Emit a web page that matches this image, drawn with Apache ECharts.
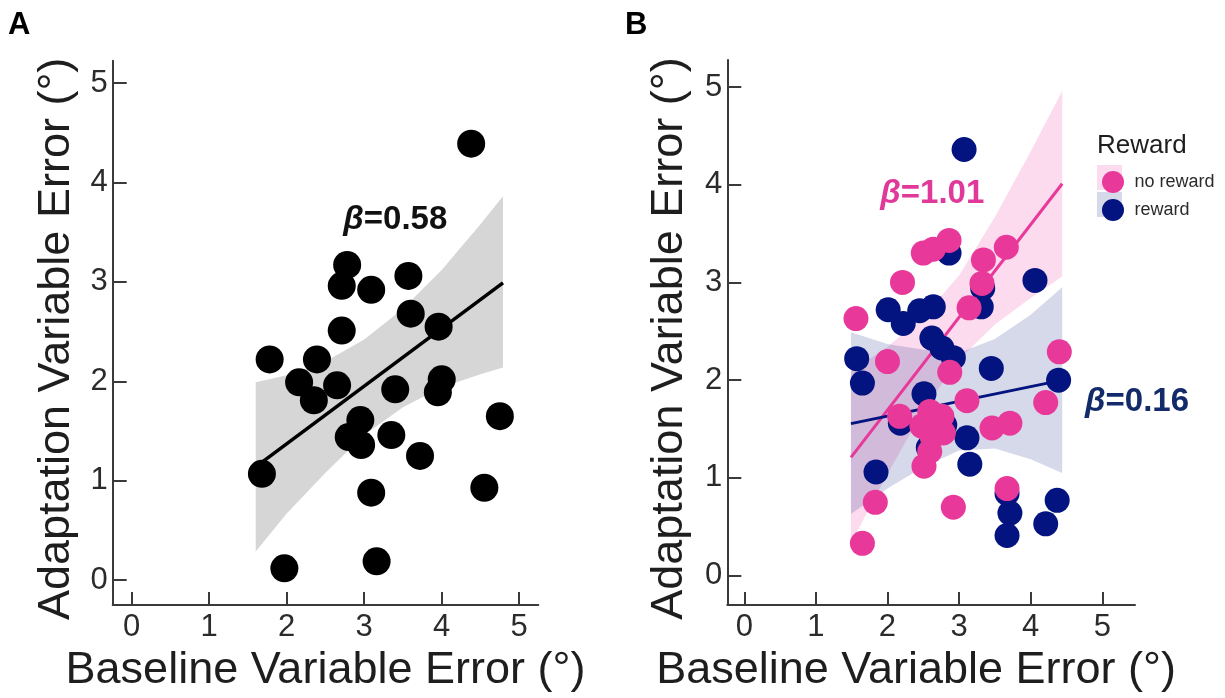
<!DOCTYPE html>
<html>
<head>
<meta charset="utf-8">
<script src="https://cdn.jsdelivr.net/npm/echarts@6/dist/echarts.min.js"></script>
<style>
  html, body { margin: 0; padding: 0; background: #fff; }
  #chart { width: 1225px; height: 698px; }
</style>
</head>
<body>
<div id="chart"></div>
<script>
// ---------- Data ----------
const tickValues = [0, 1, 2, 3, 4, 5];

// Panel A: all participants
const aBaseline = [4.38, 2.78, 2.71, 3.09, 3.57, 3.60, 2.71, 3.96, 1.78, 2.39, 2.16, 2.65, 2.35, 3.40, 4.00, 3.95, 2.95, 2.80, 2.96, 3.35, 3.72, 4.75, 1.68, 3.09, 4.55, 1.97, 3.16];
const aAdapt    = [4.39, 3.17, 2.96, 2.92, 3.06, 2.68, 2.51, 2.55, 2.22, 2.22, 1.99, 1.96, 1.81, 1.92, 2.02, 1.89, 1.61, 1.44, 1.36, 1.46, 1.25, 1.65, 1.07, 0.88, 0.93, 0.12, 0.19];
const aFitX = [1.60, 4.79];
const aFitY = [1.14, 2.99];
const aBandX  = [1.60, 2.00, 2.50, 3.00, 3.50, 4.00, 4.50, 4.79];
const aBandHi = [1.99, 2.06, 2.20, 2.42, 2.73, 3.12, 3.58, 3.86];
const aBandLo = [0.29, 0.67, 1.08, 1.46, 1.74, 1.94, 2.07, 2.14];

// Panel B: by reward group
const noRewardX = [1.56, 2.21, 2.00, 1.65, 1.83, 2.92, 2.51, 2.50, 2.64, 2.86, 3.34, 3.32, 3.66, 3.14, 2.87, 3.11, 4.40, 4.21, 3.46, 3.71, 3.67, 2.17, 2.59, 2.76, 2.48, 2.78, 2.62, 2.59];
const noRewardY = [2.63, 3.00, 2.19, 0.33, 0.75, 0.70, 1.12, 3.30, 3.34, 3.43, 3.23, 2.99, 3.36, 2.74, 2.08, 1.79, 2.29, 1.77, 1.51, 1.56, 0.89, 1.63, 1.68, 1.63, 1.53, 1.46, 1.43, 1.27];
const rewardX = [3.07, 2.86, 4.06, 2.01, 2.22, 2.45, 2.64, 3.33, 3.31, 2.62, 2.76, 2.92, 1.57, 1.65, 3.45, 4.39, 2.51, 2.18, 2.80, 3.11, 2.57, 3.15, 1.84, 3.67, 3.71, 3.67, 4.37, 4.21];
const rewardY = [4.36, 3.30, 3.02, 2.72, 2.58, 2.71, 2.75, 2.94, 2.75, 2.43, 2.33, 2.23, 2.22, 1.97, 2.12, 2.00, 1.86, 1.56, 1.54, 1.41, 1.31, 1.14, 1.06, 0.84, 0.64, 0.41, 0.77, 0.53];

const noRewardFitX = [1.49, 4.44];
const noRewardFitY = [1.21, 4.01];
const rewardFitX = [1.49, 4.44];
const rewardFitY = [1.555, 2.00];

const bBandX = [1.49, 2.00, 2.50, 3.00, 3.50, 4.00, 4.44];
const noRewardBandHi = [2.09, 2.34, 2.65, 3.07, 3.67, 4.34, 4.96];
const noRewardBandLo = [0.33, 1.04, 1.69, 2.21, 2.57, 2.84, 3.06];
const rewardBandHi = [2.49, 2.37, 2.31, 2.28, 2.42, 2.67, 2.95];
const rewardBandLo = [0.63, 0.89, 1.11, 1.28, 1.30, 1.19, 1.05];

const groupNames = ['no reward', 'reward'];
const betaA = 'β=0.58', betaNoReward = 'β=1.01', betaReward = 'β=0.16';

// ---------- Styles ----------
const PINK = '#e8399a';
const NAVY = '#03137f';
const PINK_BAND = 'rgba(232,57,154,0.18)';
const NAVY_BAND = 'rgba(3,19,127,0.16)';
const GREY_BAND = '#d6d6d6';
const FONT = '"Liberation Sans", Arial, Helvetica, sans-serif';
const AXIS_COLOR = '#3a3a3a';

const zip = (xs, ys) => xs.map((x, i) => [x, ys[i]]);
const bandData = (xs, lo, hi) => xs.map((x, i) => [x, lo[i], hi[i]]);

function bandSeries(idx, data, color, z) {
  return {
    type: 'custom',
    xAxisIndex: idx, yAxisIndex: idx,
    data: data,
    z: z,
    silent: true,
    encode: { x: 0, y: [1, 2] },
    renderItem: function (params, api) {
      if (params.dataIndex !== 0) return;
      const top = [], bottom = [];
      for (let i = 0; i < data.length; i++) {
        top.push(api.coord([data[i][0], data[i][2]]));
        bottom.push(api.coord([data[i][0], data[i][1]]));
      }
      const pts = top.concat(bottom.reverse());
      return {
        type: 'polygon',
        shape: { points: pts, smooth: 0 },
        style: { fill: color, stroke: null }
      };
    }
  };
}

function makeXAxis(gi, min, max, gap, pad) {
  return {
    gridIndex: gi, type: 'value', min: min, max: max,
    splitLine: { show: false },
    axisLine: { show: true, onZero: false, lineStyle: { color: AXIS_COLOR, width: 2 } },
    axisTick: { show: true, inside: true, length: 13, customValues: tickValues, lineStyle: { color: AXIS_COLOR, width: 2 } },
    axisLabel: { customValues: tickValues, fontSize: 31, color: '#2b2b2b', fontFamily: FONT, margin: 7 },
    name: 'Baseline Variable Error (°)',
    nameLocation: 'middle', nameGap: gap,
    nameTextStyle: { fontSize: 45, color: '#1e1e1e', fontFamily: FONT, padding: pad }
  };
}
function makeYAxis(gi, min, max, gap) {
  return {
    gridIndex: gi, type: 'value', min: min, max: max,
    splitLine: { show: false },
    axisLine: { show: true, onZero: false, lineStyle: { color: AXIS_COLOR, width: 2 } },
    axisTick: { show: true, inside: true, length: 14, customValues: tickValues, lineStyle: { color: AXIS_COLOR, width: 2 } },
    axisLabel: { customValues: tickValues, fontSize: 31, color: '#2b2b2b', fontFamily: FONT, margin: 5 },
    name: 'Adaptation Variable Error (°)',
    nameLocation: 'middle', nameGap: gap, nameRotate: 90,
    nameTextStyle: { fontSize: 45, color: '#1e1e1e', fontFamily: FONT, padding: [0, 12, 0, 0] }
  };
}

const chart = echarts.init(document.getElementById('chart'), null, { renderer: 'canvas' });

const option = {
  animation: false,
  backgroundColor: '#ffffff',
  grid: [
    { left: 112.7, top: 60.7, width: 425.6, height: 550 },
    { left: 727.3, top: 60, width: 407.7, height: 555 }
  ],
  xAxis: [
    makeXAxis(0, -0.245, 5.246, 43, [0, 0, 0, 0]),
    makeXAxis(1, -0.237, 5.457, 39, [0, 30, 0, 0])
  ],
  yAxis: [
    makeYAxis(0, -0.249, 5.224, 34),
    makeYAxis(1, -0.302, 5.276, 35)
  ],
  legend: {
    data: groupNames,
    orient: 'vertical',
    left: 1097, top: 166,
    itemWidth: 25, itemHeight: 22, itemGap: 6,
    icon: 'circle',
    textStyle: { fontSize: 18, color: '#2b2b2b', fontFamily: FONT, padding: [0, 0, 0, 4] }
  },
  series: [
    // Panel A
    bandSeries(0, bandData(aBandX, aBandLo, aBandHi), GREY_BAND, 1),
    {
      type: 'line', xAxisIndex: 0, yAxisIndex: 0, data: zip(aFitX, aFitY),
      showSymbol: false, lineStyle: { color: '#000', width: 3.5 }, z: 2, silent: true
    },
    {
      type: 'scatter', xAxisIndex: 0, yAxisIndex: 0, data: zip(aBaseline, aAdapt),
      symbol: 'circle', symbolSize: 28, itemStyle: { color: '#000', opacity: 1 }, z: 3
    },
    // Panel B
    bandSeries(1, bandData(bBandX, noRewardBandLo, noRewardBandHi), PINK_BAND, 1),
    bandSeries(1, bandData(bBandX, rewardBandLo, rewardBandHi), NAVY_BAND, 1),
    {
      type: 'line', xAxisIndex: 1, yAxisIndex: 1, data: zip(noRewardFitX, noRewardFitY),
      showSymbol: false, lineStyle: { color: PINK, width: 3 }, z: 2, silent: true
    },
    {
      type: 'line', xAxisIndex: 1, yAxisIndex: 1, data: zip(rewardFitX, rewardFitY),
      showSymbol: false, lineStyle: { color: NAVY, width: 3 }, z: 2, silent: true
    },
    {
      name: 'reward', type: 'scatter', xAxisIndex: 1, yAxisIndex: 1, data: zip(rewardX, rewardY),
      symbol: 'circle', symbolSize: 25, itemStyle: { color: NAVY, opacity: 1 }, z: 3
    },
    {
      name: 'no reward', type: 'scatter', xAxisIndex: 1, yAxisIndex: 1, data: zip(noRewardX, noRewardY),
      symbol: 'circle', symbolSize: 25, itemStyle: { color: PINK, opacity: 1 }, z: 4
    }
  ]
};
chart.setOption(option);

// ---------- Annotations ----------
function betaText(gridIdx, coord, txt, color, size) {
  const p = chart.convertToPixel({ gridIndex: gridIdx }, coord);
  const rest = txt.slice(1);
  return {
    type: 'text', x: p[0], y: p[1], z: 100,
    style: {
      text: '{b|β}' + rest,
      fill: color,
      font: 'bold ' + size + 'px ' + FONT,
      verticalAlign: 'middle', align: 'left',
      rich: { b: { fontStyle: 'italic', fontWeight: 'bold', fontSize: size, fontFamily: FONT, fill: color } }
    }
  };
}

chart.setOption({
  graphic: [
    { type: 'text', left: 8, top: 10, style: { text: 'A', font: 'bold 31px ' + FONT, fill: '#000' } },
    { type: 'text', left: 625, top: 10, style: { text: 'B', font: 'bold 31px ' + FONT, fill: '#000' } },
    { type: 'text', left: 1097, top: 133, style: { text: 'Reward', font: '26px ' + FONT, fill: '#1e1e1e' } },
    { type: 'rect', shape: { x: 1097, y: 165, width: 25, height: 25 }, style: { fill: PINK_BAND }, z: -1 },
    { type: 'rect', shape: { x: 1097, y: 192, width: 25, height: 25 }, style: { fill: NAVY_BAND }, z: -1 },
    betaText(0, [2.73, 3.62], betaA, '#111111', 33),
    betaText(1, [1.90, 3.91], betaNoReward, '#e0399a', 33),
    betaText(1, [4.76, 1.78], betaReward, '#132b6b', 33)
  ]
});
</script>
</body>
</html>
